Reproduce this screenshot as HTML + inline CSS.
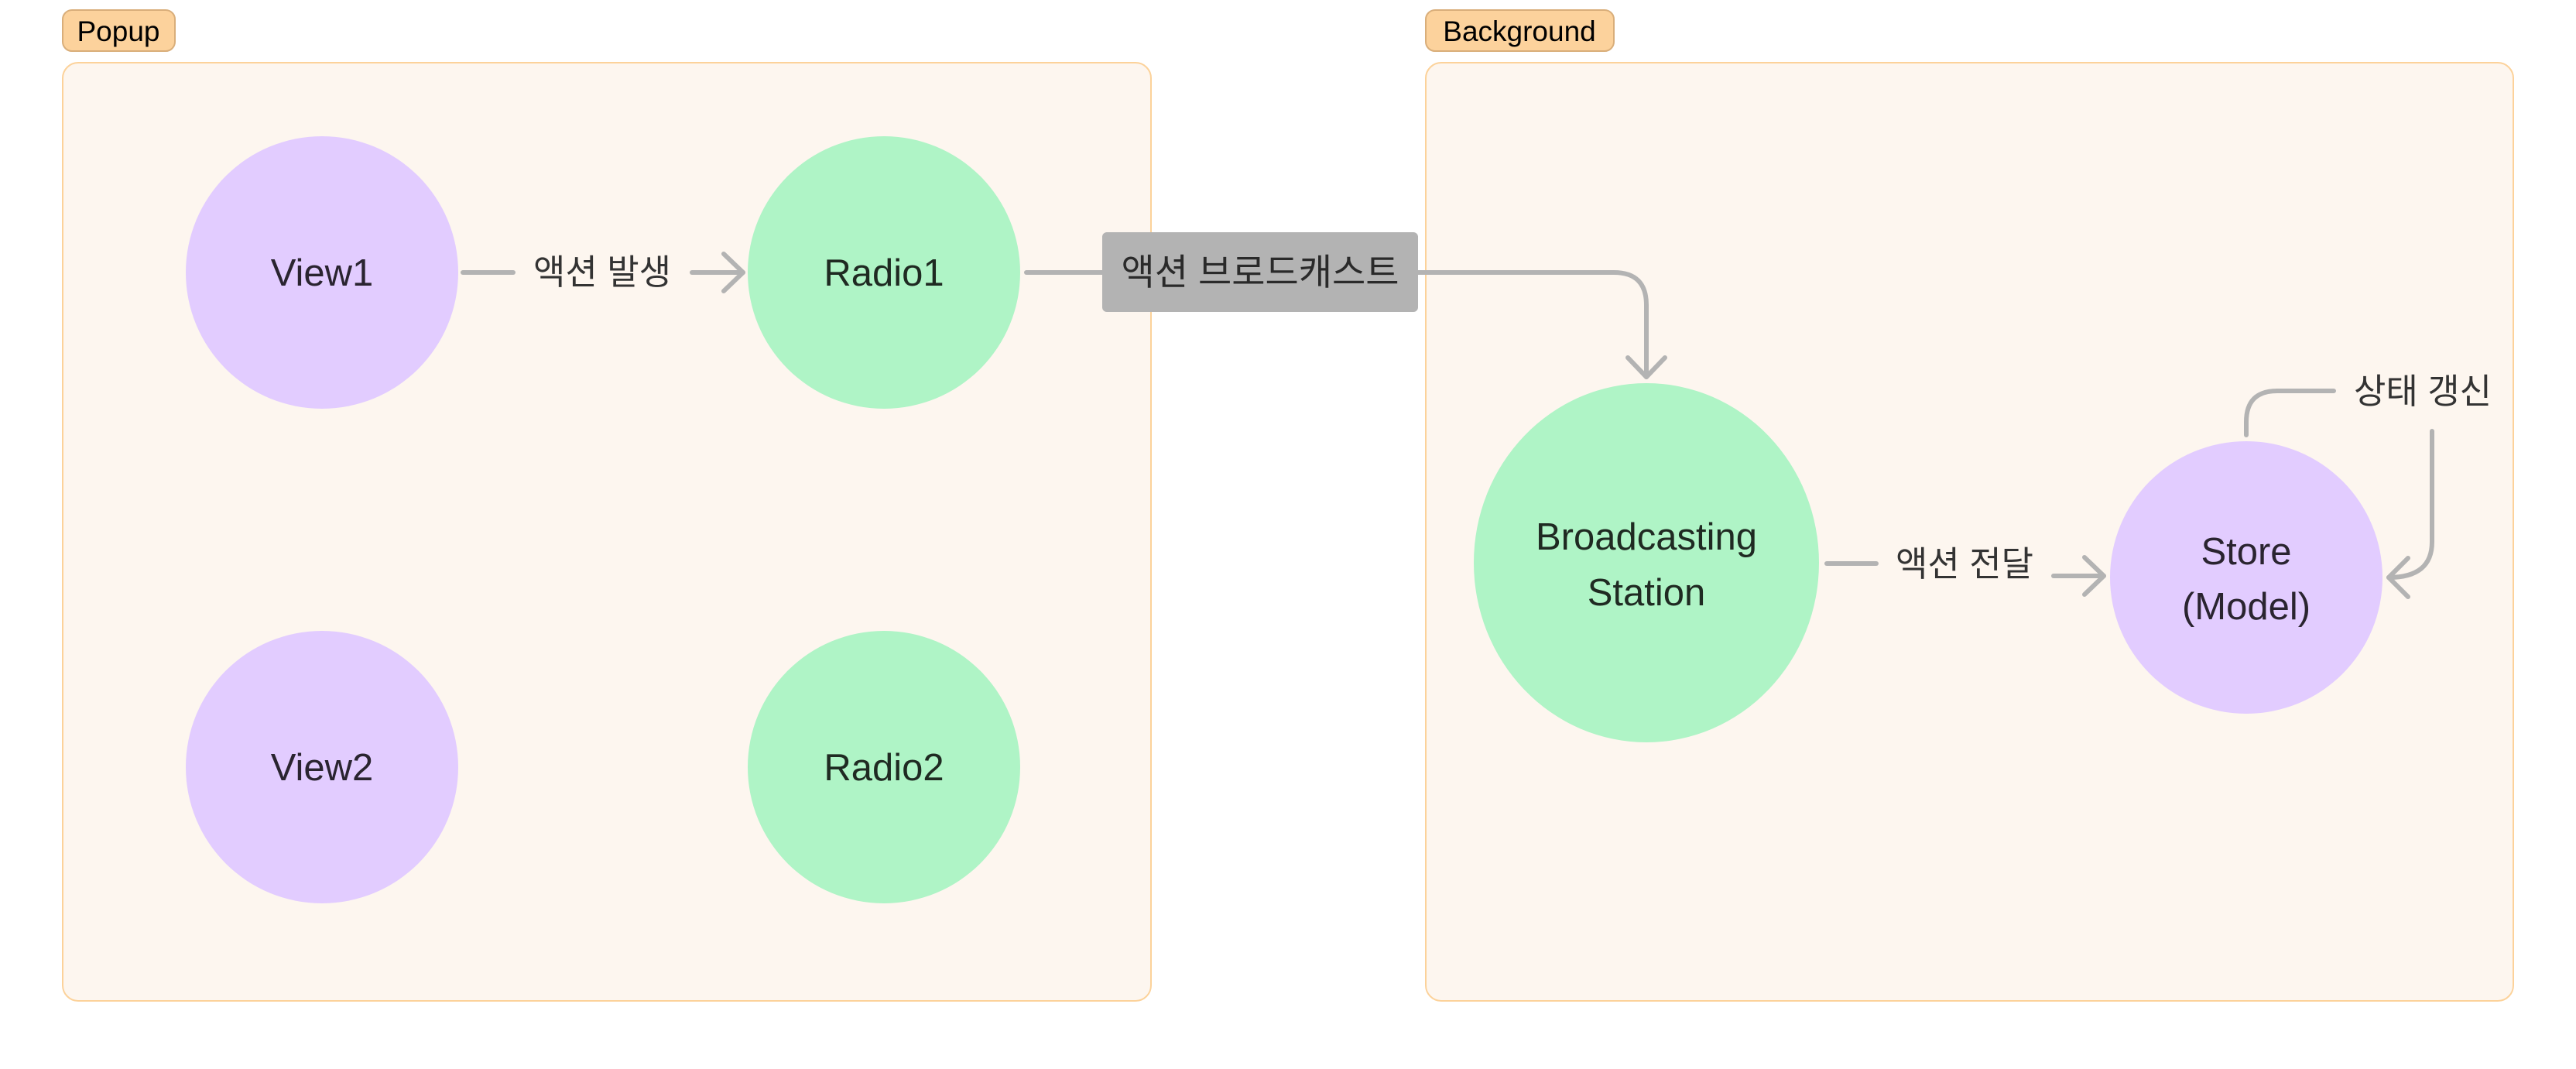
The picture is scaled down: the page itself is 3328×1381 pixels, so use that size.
<!DOCTYPE html>
<html><head><meta charset="utf-8"><style>
html,body{margin:0;padding:0;background:#fff;}
body{width:3328px;height:1376px;overflow:hidden;}
text{font-family:"Liberation Sans","Noto Sans CJK KR",sans-serif;}
</style></head><body>
<svg width="3328" height="1376" xmlns="http://www.w3.org/2000/svg">
<rect x="81" y="81" width="1406" height="1212" rx="20" fill="#fdf6ef" stroke="#fcd29a" stroke-width="2"/>
<rect x="1842" y="81" width="1405" height="1212" rx="20" fill="#fdf6ef" stroke="#fcd29a" stroke-width="2"/>
<rect x="81" y="13" width="145" height="53" rx="12" fill="#fcd29c" stroke="#d9ae7a" stroke-width="2"/>
<text x="153" y="53" font-size="37" text-anchor="middle" fill="#000">Popup</text>
<rect x="1842" y="13" width="243" height="53" rx="12" fill="#fcd29c" stroke="#d9ae7a" stroke-width="2"/>
<text x="1963" y="53" font-size="37" text-anchor="middle" fill="#000">Background</text>

<circle cx="416" cy="352" r="176" fill="#e2ccff"/>
<circle cx="1142" cy="352" r="176" fill="#aff4c6"/>
<circle cx="416" cy="991" r="176" fill="#e2ccff"/>
<circle cx="1142" cy="991" r="176" fill="#aff4c6"/>
<ellipse cx="2127" cy="727" rx="223" ry="232" fill="#aff4c6"/>
<circle cx="2902" cy="746" r="176" fill="#e2ccff"/>

<g font-size="49" text-anchor="middle" fill="#2a2430">
<text x="416" y="369">View1</text>
<text x="416" y="1008">View2</text>
</g>
<g font-size="49" text-anchor="middle" fill="#1f2a22">
<text x="1142" y="369">Radio1</text>
<text x="1142" y="1008">Radio2</text>
<text x="2127" y="710">Broadcasting</text>
<text x="2127" y="782">Station</text>
</g>
<g font-size="49" text-anchor="middle" fill="#2a2430">
<text x="2902" y="729">Store</text>
<text x="2902" y="800">(Model)</text>
</g>

<g stroke="#b3b3b3" stroke-width="6" fill="none" stroke-linecap="round" stroke-linejoin="round">
<line x1="598" y1="352" x2="663" y2="352"/>
<line x1="894" y1="352" x2="960" y2="352"/>
<polyline points="935,328 960,352 935,376"/>
<line x1="1326" y1="352" x2="1424" y2="352"/>
<path d="M1832,352 H2085 Q2127,352 2127,394 V487"/>
<polyline points="2103,462 2127,487 2151,462"/>
<line x1="2360" y1="728" x2="2424" y2="728"/>
<line x1="2653" y1="744" x2="2718" y2="744"/>
<polyline points="2693,720 2718,744 2693,768"/>
<path d="M2902,562 V545 Q2902,505 2942,505 H3015"/>
<path d="M3142,557 V700 Q3142,746 3086,746"/>
<polyline points="3111,721 3086,746 3111,771"/>
</g>

<rect x="1424" y="300" width="408" height="103" rx="6" fill="#b3b3b3"/>
<text x="1628" y="368" font-size="47" text-anchor="middle" fill="#2a2a2a">액션 브로드캐스트</text>
<g font-size="45" text-anchor="middle" fill="#333">
<text x="778" y="367">액션 발생</text>
<text x="2538" y="744">액션 전달</text>
<text x="3130" y="521">상태 갱신</text>
</g>
</svg>
</body></html>
